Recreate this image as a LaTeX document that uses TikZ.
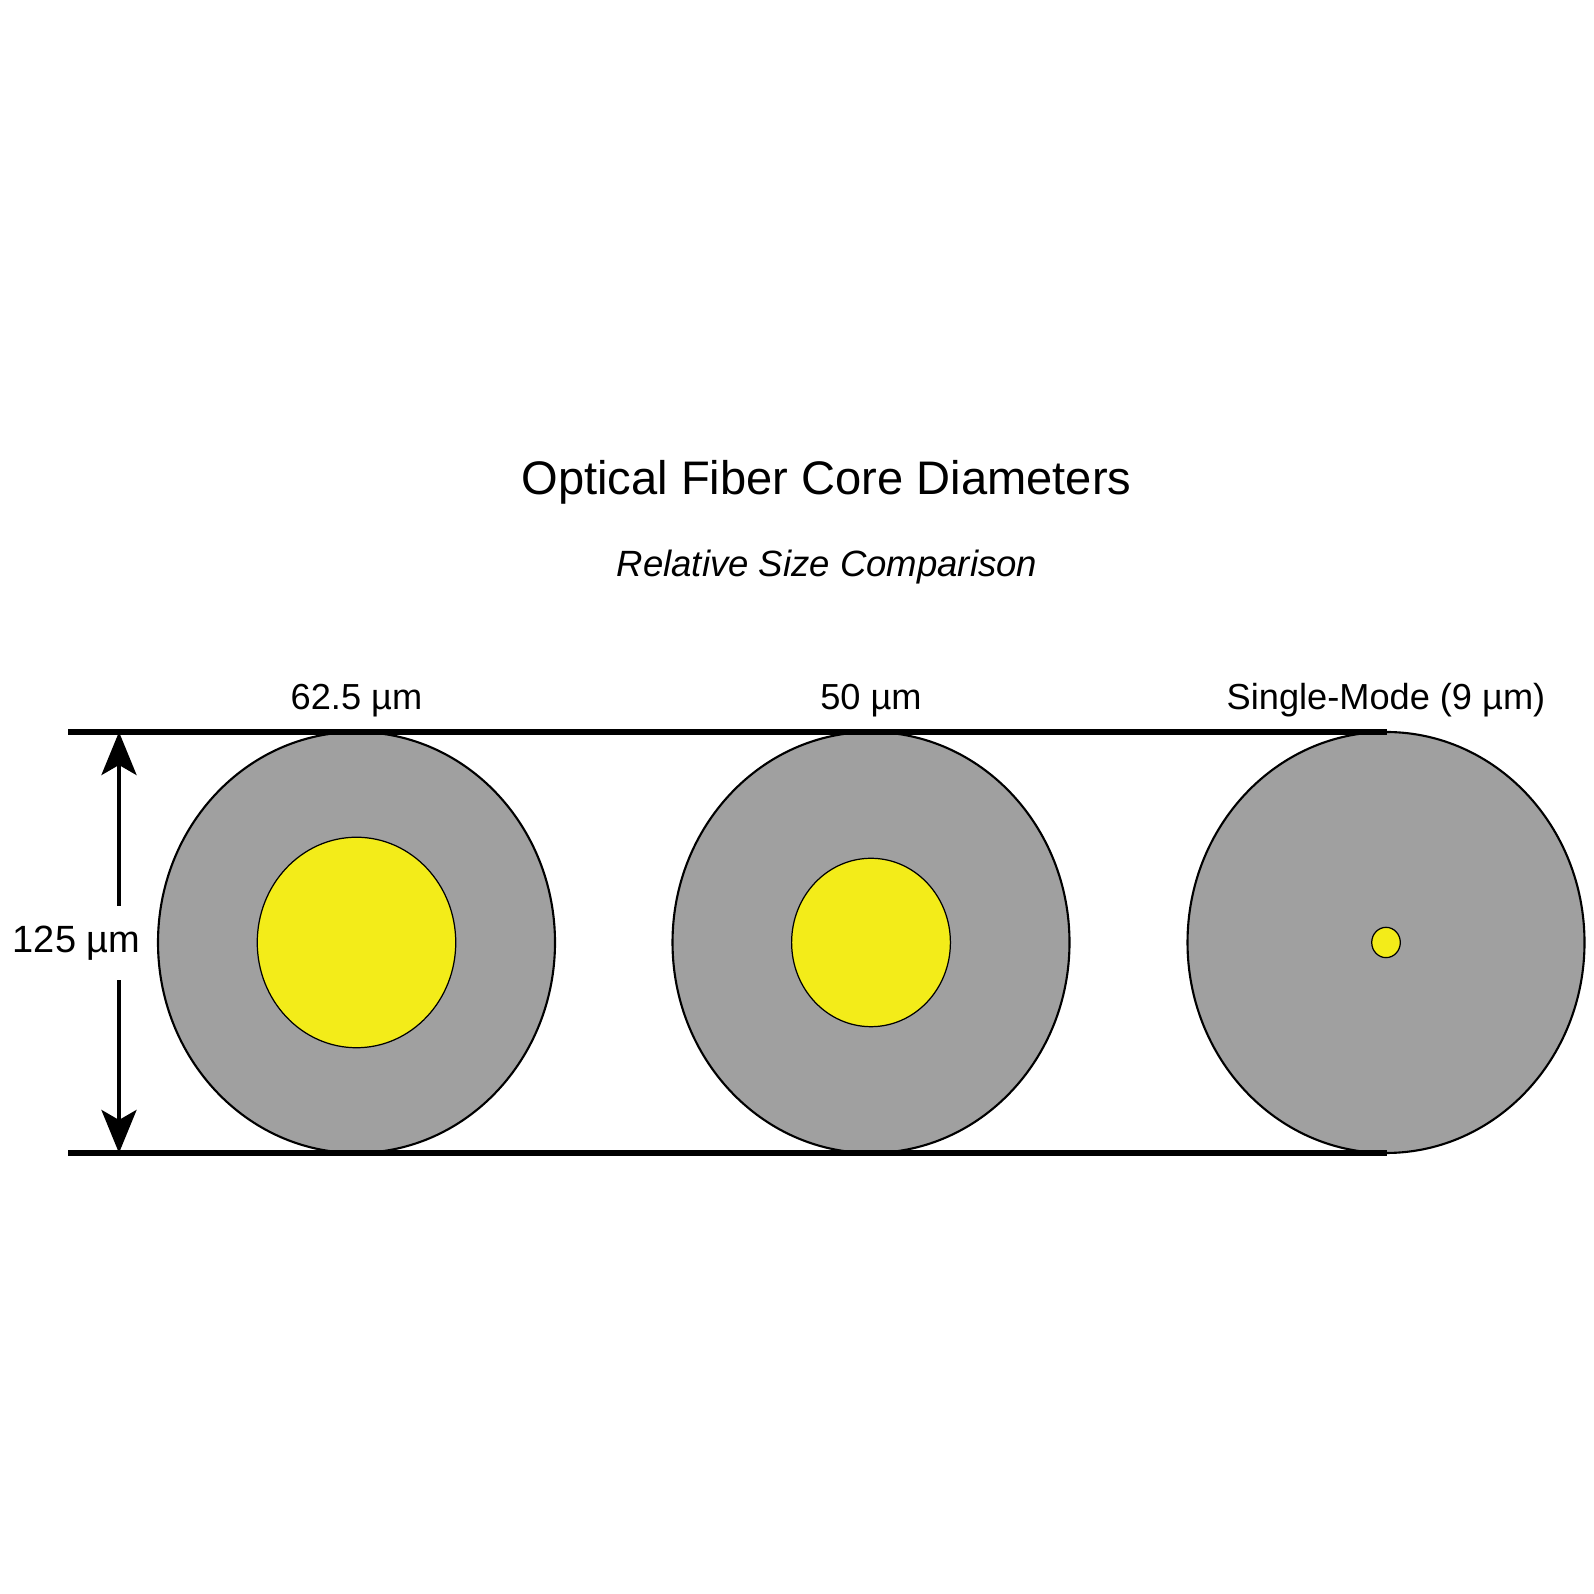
\documentclass[tikz,border=0pt]{standalone}
\usepackage{fontspec}
\setmainfont{Liberation Sans}
\usepackage{tikz}
\usepackage{xcolor}
\usetikzlibrary{shapes.geometric, arrows.meta, positioning, calc}

\definecolor{cladgray}{RGB}{160,160,160}
\definecolor{coreyellow}{RGB}{243,236,25}

\begin{document}
\begin{tikzpicture}[
    cladding/.style={ellipse, draw=black, line width=0.6pt, fill=cladgray,
        minimum width=3.97cm, minimum height=4.21cm, inner sep=0pt},
    core/.style={ellipse, draw=black, line width=0.35pt, fill=coreyellow, inner sep=0pt},
    sizelabel/.style={anchor=base, font=\fontsize{10.3}{12}\selectfont},
    refline/.style={line width=1.45pt},
    dimarrow/.style={-{Stealth[length=4.3mm, width=3.5mm, inset=1mm]}, line width=1.15pt}
]
\useasboundingbox (0,0) rectangle (15.94,15.94);

% Title
\node[anchor=base, font=\fontsize{13.4}{16}\selectfont] (title) at (8.265,10.99) {Optical Fiber Core Diameters};
\node[anchor=base, font=\fontsize{10.4}{12}\selectfont\itshape] (subtitle) at (8.27,10.17) {Relative Size Comparison};

% Fibers: cladding 125 um, cores drawn to scale
\node[cladding] (clad1) at (3.565,6.515) {};
\node[core, minimum width=1.985cm, minimum height=2.105cm] (core1) at (clad1) {};
\node[sizelabel] (lbl1) at (3.565,8.84) {62.5 µm};

\node[cladding] (clad2) at (8.71,6.515) {};
\node[core, minimum width=1.588cm, minimum height=1.684cm] (core2) at (clad2) {};
\node[sizelabel] (lbl2) at (8.71,8.84) {50 µm};

\node[cladding] (clad3) at (13.86,6.515) {};
\node[core, minimum width=0.286cm, minimum height=0.303cm] (core3) at (clad3) {};
\node[sizelabel] (lbl3) at (13.86,8.84) {Single-Mode (9 µm)};

% Reference lines
\coordinate (topL) at (0.68,8.62);
\coordinate (topR) at (13.87,8.62);
\coordinate (botL) at (0.68,4.41);
\coordinate (botR) at (13.87,4.41);
\draw[refline] (topL) -- (topR);
\draw[refline] (botL) -- (botR);

% Dimension arrow
\coordinate (arrTop) at (1.19,8.62);
\coordinate (arrBot) at (1.19,4.41);
\node[font=\fontsize{10.8}{12}\selectfont, minimum height=0.73cm, inner sep=0pt] (dim) at (0.765,6.51) {125 µm};
\draw[dimarrow] (dim.north -| arrTop) -- (arrTop);
\draw[dimarrow] (dim.south -| arrBot) -- (arrBot);
\end{tikzpicture}
\end{document}
